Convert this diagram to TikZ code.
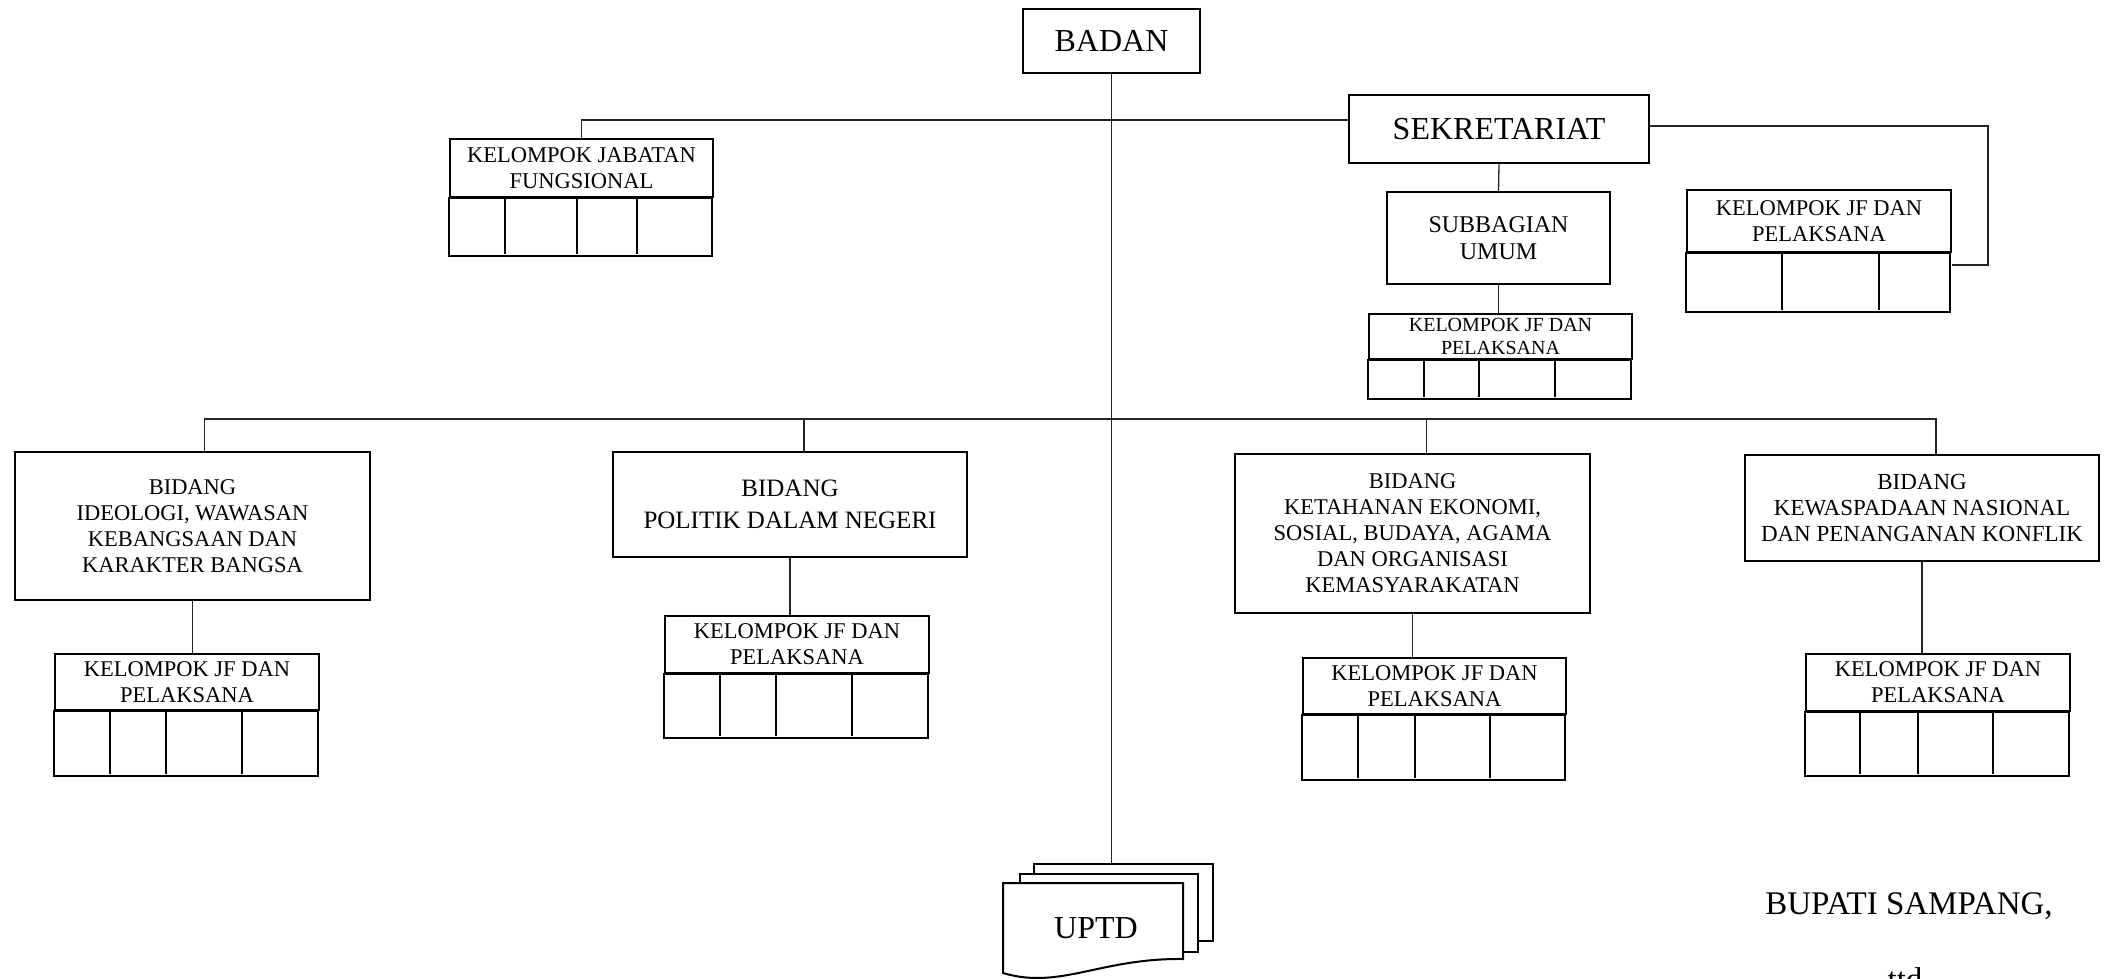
\documentclass[tikz,border=0pt]{standalone}
\usepackage{fontspec}
\setmainfont{Liberation Serif}
\usetikzlibrary{calc}

\begin{document}
\begin{tikzpicture}[x=1pt,y=-1pt,
	box/.style={draw,line width=2pt,inner sep=0pt,align=center},
	page/.style={draw,line width=2pt,fill=white,inner sep=0pt,anchor=north west},
	cell/.style={line width=2pt},
	link/.style={line width=1.3pt,black!85},
	txtbig/.style={font=\fontsize{32}{36}\selectfont},
	txtmid/.style={font=\fontsize{22.5}{26}\selectfont},
	txtsmall/.style={font=\fontsize{20}{23}\selectfont}]

	\useasboundingbox (0,0) rectangle (2108,979);
	\clip (0,0) rectangle (2108,979);

	%top
	\node[box,txtbig,minimum width=177pt,minimum height=64pt] (badan) at (1111.5,41) {BADAN};
	\node[box,txtbig,minimum width=300pt,minimum height=68pt] (sek) at (1499,129) {SEKRETARIAT};
	\node[box,font=\fontsize{24}{27.5}\selectfont,minimum width=223pt,minimum height=92pt] (sub) at (1498.5,238) {SUBBAGIAN\\UMUM};

	%bidang
	\node[box,txtmid,minimum width=355pt,minimum height=148pt] (bidideo) at (192.5,526) {BIDANG\\IDEOLOGI, WAWASAN\\KEBANGSAAN DAN\\KARAKTER BANGSA};
	\node[box,font=\fontsize{25}{32}\selectfont,minimum width=354pt,minimum height=105pt] (bidpol) at (790,504.5) {BIDANG\\POLITIK DALAM NEGERI};
	\node[box,txtmid,minimum width=355pt,minimum height=159pt] (bidket) at (1412.5,533.5) {BIDANG\\KETAHANAN EKONOMI,\\SOSIAL, BUDAYA, AGAMA\\DAN ORGANISASI\\KEMASYARAKATAN};
	\node[box,font=\fontsize{23}{26}\selectfont,minimum width=354pt,minimum height=106pt] (bidwas) at (1922,508) {BIDANG\\KEWASPADAAN NASIONAL\\DAN PENANGANAN KONFLIK};

	%kelompok boxes, header + row of cells
	\node[box,txtmid,minimum width=263pt,minimum height=58pt,anchor=north west] (kjfung) at (449,138) {KELOMPOK JABATAN\\FUNGSIONAL};
	\draw[cell] (kjfung.south west) rectangle ++(263,58);
	\foreach \x in {505,577,637} \draw[cell] (\x,196) -- (\x,254);

	\node[box,txtmid,minimum width=264pt,minimum height=62pt,anchor=north west] (kjfsek) at (1686,189) {KELOMPOK JF DAN\\PELAKSANA};
	\draw[cell] (kjfsek.south west) rectangle ++(264,59);
	\foreach \x in {1782,1879} \draw[cell] (\x,251) -- (\x,310);

	\node[box,txtsmall,minimum width=263pt,minimum height=45pt,anchor=north west] (kjfsub) at (1368,313) {KELOMPOK JF DAN\\PELAKSANA};
	\draw[cell] (kjfsub.south west) rectangle ++(263,39);
	\foreach \x in {1424,1479,1555} \draw[cell] (\x,358) -- (\x,397);

	\node[box,txtmid,minimum width=264pt,minimum height=56pt,anchor=north west] (kjfideo) at (54,653) {KELOMPOK JF DAN\\PELAKSANA};
	\draw[cell] (kjfideo.south west) rectangle ++(264,65);
	\foreach \x in {110,166,242} \draw[cell] (\x,709) -- (\x,774);

	\node[box,txtmid,minimum width=264pt,minimum height=57pt,anchor=north west] (kjfpol) at (664,615) {KELOMPOK JF DAN\\PELAKSANA};
	\draw[cell] (kjfpol.south west) rectangle ++(264,64);
	\foreach \x in {720,776,852} \draw[cell] (\x,672) -- (\x,736);

	\node[box,txtmid,minimum width=263pt,minimum height=56pt,anchor=north west] (kjfket) at (1302,657) {KELOMPOK JF DAN\\PELAKSANA};
	\draw[cell] (kjfket.south west) rectangle ++(263,65);
	\foreach \x in {1358,1415,1490} \draw[cell] (\x,713) -- (\x,778);

	\node[box,txtmid,minimum width=264pt,minimum height=57pt,anchor=north west] (kjfwas) at (1805,653) {KELOMPOK JF DAN\\PELAKSANA};
	\draw[cell] (kjfwas.south west) rectangle ++(264,64);
	\foreach \x in {1860,1918,1993} \draw[cell] (\x,710) -- (\x,774);

	%UPTD pages
	\node[page,minimum width=179pt,minimum height=77pt] (uptdc) at (1033,863) {};
	\node[page,minimum width=178pt,minimum height=78pt] (uptdb) at (1019,873) {};
	\draw[cell,fill=white] (1003,883) -- (1183,883) -- (1183,959) .. controls (1100,958) and (1060,990) .. (1003,973) -- cycle;	%front page
	\node[txtbig,anchor=base] (uptd) at (1096,938.5) {UPTD};

	%lines
	\coordinate (sekbend) at (1988,126);
	\coordinate (bar) at (1109,419);
	\draw[link] (badan.south) -- (badan.south |- uptdc.north);
	\draw[link] (kjfung.north) |- ([yshift=9pt]sek.west);
	\draw[link] ([yshift=3pt]sek.east) -- (sekbend) |- ([yshift=-44pt]kjfsek.east);
	\draw[link] (sek.south) -- (sub.north);
	\draw[link] (sub.south) -- (sub.south |- kjfsub.north);
	\draw[link] ([xshift=12pt]bidideo.north) |- (bar) -| ([xshift=14pt]bidwas.north);
	\draw[link] ([xshift=14pt]bidpol.north) -- ([xshift=14pt]bidpol.north |- bar);
	\draw[link] ([xshift=14pt]bidket.north) -- ([xshift=14pt]bidket.north |- bar);
	\foreach \b/\k in {bidideo/kjfideo,bidpol/kjfpol,bidket/kjfket,bidwas/kjfwas}
		\draw[link] (\b.south) -- (\b.south |- \k.north);

	%signature
	\node[font=\fontsize{33}{38}\selectfont,anchor=base] (bupati) at (1909,914) {BUPATI SAMPANG,};
	\node[font=\fontsize{33}{38}\selectfont,anchor=base] (ttd) at (1905,990) {ttd};
\end{tikzpicture}
\end{document}
